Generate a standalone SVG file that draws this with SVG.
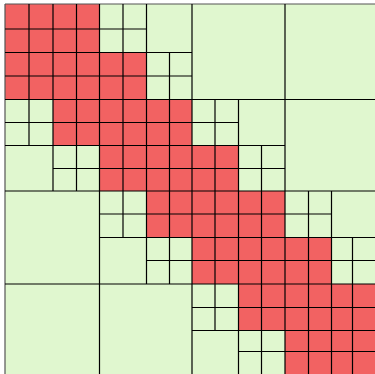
<svg xmlns="http://www.w3.org/2000/svg" width="375" height="374" viewBox="0 0 375 374">
  <style>
    .bg { fill: #ffffff; }
    .green { fill: #E0F7CF; }
    .red { fill: #F26262; }
    .grid { fill: none; stroke: #000000; stroke-width: 1.2; }
    .border { fill: none; stroke: #555555; stroke-width: 1.2; }
  </style>
  <rect class="bg" x="0" y="0" width="375" height="374"/>
  <g id="matrix">
    <rect id="admissible" class="green" x="5" y="4" width="373" height="374"/>
    <path id="near-field" class="red" d="M5,4 H99.5 V52.5 H146.5 V99.5 H192 V145.5 H238.5 V191 H285 V237.5 H331.5 V284 H378 V378 H285 V330.5 H238.5 V284 H192 V237.5 H146.5 V191 H99.5 V145.5 H53 V99.5 H5 Z"/>
  </g>
  <g id="connectors">
    <path class="border" d="M5,4 H378 M5,4 V378"/>
    <path class="grid" d="
      M5,29 H146.5
      M5,52.5 H192
      M5,76 H192
      M5,99.5 H378
      M5,122.5 H238.5
      M5,145.5 H285
      M53,168.5 H285
      M5,191 H378
      M99.5,214 H331.5
      M99.5,237.5 H378
      M146.5,260.5 H378
      M5,284 H378
      M192,307.5 H378
      M192,330.5 H378
      M238.5,351.5 H378
      M29,4 V145.5
      M53,4 V191
      M76.5,4 V191
      M99.5,4 V378
      M123,4 V237.5
      M146.5,4 V284
      M169.5,52.5 V284
      M192,4 V378
      M215,99.5 V330.5
      M238.5,99.5 V378
      M261.5,145.5 V378
      M285,4 V378
      M308.5,191 V378
      M331.5,191 V378
      M352.5,237.5 V378"/>
  </g>
</svg>
